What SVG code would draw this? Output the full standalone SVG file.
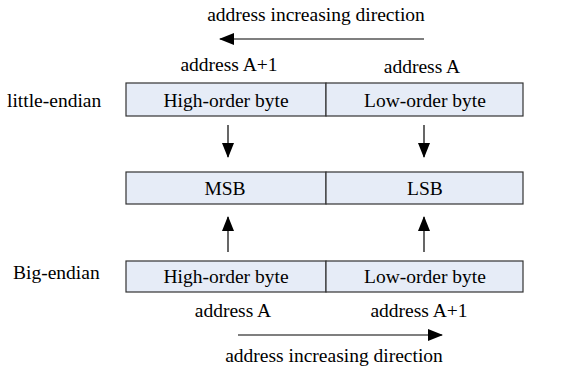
<svg xmlns="http://www.w3.org/2000/svg" width="576" height="369" viewBox="0 0 576 369">
<style>
text{font-family:"Liberation Serif","Times New Roman",serif;font-size:19.5px;fill:#000}
.c{text-anchor:middle}
.box{fill:#e6ecf7;stroke:#333;stroke-width:1.2}
.ln{stroke:#000;stroke-width:1.2;fill:none}
</style>
<defs>
<marker id="ah" markerWidth="15" markerHeight="12" refX="14" refY="6" orient="auto" markerUnits="userSpaceOnUse">
<path d="M0,0 L15,6 L0,12 Z" fill="#000"/>
</marker>
</defs>
<rect width="576" height="369" fill="#fff"/>
<g id="top-label"><text class="c" x="316" y="21">address increasing direction</text></g>
<g id="addr-top">
<text class="c" x="229" y="71">address A+1</text>
<text class="c" x="422" y="73">address A</text>
</g>
<g id="little-endian">
<text x="7" y="107">little-endian</text>
<rect class="box" x="126" y="83" width="200" height="33"/>
<rect class="box" x="326" y="83" width="197" height="33"/>
<text class="c" x="226" y="106.5">High-order byte</text>
<text class="c" x="425" y="106.5">Low-order byte</text>
</g>
<g id="middle">
<rect class="box" x="126" y="172" width="200" height="32"/>
<rect class="box" x="326" y="172" width="197" height="32"/>
<text class="c" x="225" y="195">MSB</text>
<text class="c" x="425" y="195">LSB</text>
</g>
<g id="big-endian">
<text x="13" y="279">Big-endian</text>
<rect class="box" x="126" y="261" width="200" height="31"/>
<rect class="box" x="326" y="261" width="197" height="31"/>
<text class="c" x="226" y="283">High-order byte</text>
<text class="c" x="425" y="283">Low-order byte</text>
</g>
<g id="addr-bottom">
<text class="c" x="233" y="317">address A</text>
<text class="c" x="419" y="317">address A+1</text>
</g>
<g id="bottom-label"><text class="c" x="334" y="362">address increasing direction</text></g>
<g id="connectors">
<line class="ln" x1="424" y1="39" x2="220" y2="39" marker-end="url(#ah)"/>
<line class="ln" x1="228" y1="125" x2="228" y2="157" marker-end="url(#ah)"/>
<line class="ln" x1="424" y1="125" x2="424" y2="157" marker-end="url(#ah)"/>
<line class="ln" x1="228" y1="252" x2="228" y2="217" marker-end="url(#ah)"/>
<line class="ln" x1="424" y1="252" x2="424" y2="217" marker-end="url(#ah)"/>
<line class="ln" x1="238" y1="335" x2="442" y2="335" marker-end="url(#ah)"/>
</g>
</svg>
